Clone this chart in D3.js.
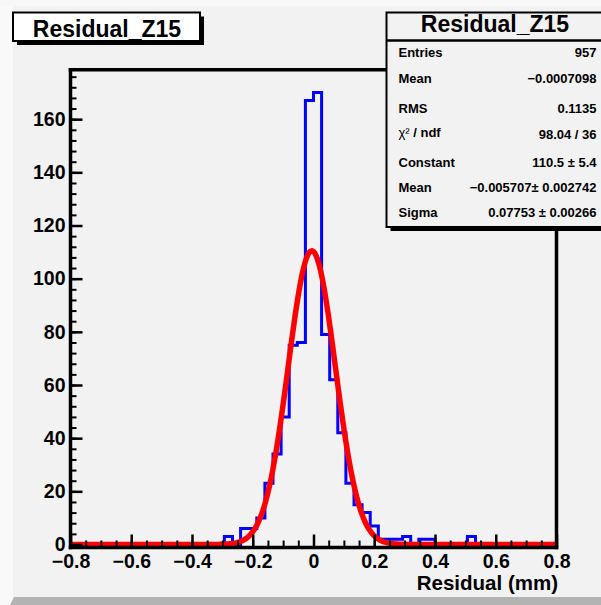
<!DOCTYPE html>
<html>
<head>
<meta charset="utf-8">
<script src="https://cdn.jsdelivr.net/npm/d3@7"></script>
<style>
  body { margin: 0; background: #f2f2f2; }
  text { font-family: "Liberation Sans", Arial, Helvetica, sans-serif; font-weight: bold; }
</style>
</head>
<body>
<div id="chart"></div>
<script>
// histogram range and bin contents (60 bins from -0.8 to 0.8)
var xMin = -0.8, xMax = 0.8;
var binCounts = [
  0, 0, 0, 0, 0, 0, 0, 0, 0, 0,
  0, 0, 0, 0, 0, 0, 0, 0, 0, 3,
  0, 6, 6, 10, 23, 34, 48, 75, 76, 167,
  170, 79, 62, 42, 23, 15, 12, 7, 2, 2,
  2, 3, 0, 2, 2, 0, 0, 0, 0, 3,
  0, 0, 0, 0, 0, 0, 0, 0, 0, 0
];

// gaussian fit parameters (from the stats box)
var fitConstant = 110.5, fitMean = -0.005707, fitSigma = 0.07753;

// axis ticks
var xTickLabels = [-0.8, -0.6, -0.4, -0.2, 0, 0.2, 0.4, 0.6, 0.8];
var yTickLabels = [0, 20, 40, 60, 80, 100, 120, 140, 160];

// stats box
var statNames = ["Entries", "Mean", "RMS", "\u03c7\u00b2 / ndf", "Constant", "Mean", "Sigma"];
var statValues = ["957", "\u22120.0007098", "0.1135", "98.04 / 36", "110.5 \u00b1 5.4",
                  "\u22120.005707\u00b1 0.002742", "0.07753 \u00b1 0.00266"];

var histTitle = "Residual_Z15";
var xTitle = "Residual (mm)";

var W = 601, H = 605;

var svg = d3.select("#chart")
  .append("svg")
    .attr("width", W)
    .attr("height", H);

// canvas background with the bevel border
svg.append("rect").attr("width", W).attr("height", H).attr("fill", "#f2f2f2");
svg.append("rect").attr("x", 0).attr("y", 0).attr("width", 13).attr("height", H).attr("fill", "#f9f9f9");
svg.append("rect").attr("x", 0).attr("y", 0).attr("width", W).attr("height", 6).attr("fill", "#f7f7f7");
svg.append("polygon")
  .attr("points", "10,605 14,597 601,597 601,605")
  .attr("fill", "#b3b3b3");

var x = d3.scaleLinear().domain([xMin, xMax]).range([70.5, 556.5]);
var y = d3.scaleLinear().domain([0, 178.5]).range([544.5, 70]);

var binWidth = (xMax - xMin) / binCounts.length;

// histogram outline
var histPts = binCounts.map(function(c, i) { return [xMin + i * binWidth, c]; });
histPts.push([xMax, binCounts[binCounts.length - 1]]);

var stepLine = d3.line()
  .x(function(d) { return x(d[0]); })
  .y(function(d) { return y(d[1]); })
  .curve(d3.curveStepAfter);

svg.append("path")
  .datum(histPts)
  .attr("d", stepLine)
  .attr("fill", "none")
  .attr("stroke", "#0000ff")
  .attr("stroke-width", 3);

// fit function
var fitPts = d3.range(0, 401).map(function(i) {
  var xv = xMin + i * (xMax - xMin) / 400;
  var z = (xv - fitMean) / fitSigma;
  return [xv, fitConstant * Math.exp(-0.5 * z * z)];
});

svg.append("path")
  .datum(fitPts)
  .attr("d", d3.line().x(function(d) { return x(d[0]); }).y(function(d) { return y(d[1]); }))
  .attr("fill", "none")
  .attr("stroke", "#ff0000")
  .attr("stroke-width", 5.5)
  .attr("stroke-linejoin", "round");

// y axis: major + minor ticks pointing into the frame
var yAxis = svg.append("g")
  .attr("transform", "translate(70.5,0)")
  .call(d3.axisLeft(y).tickValues(yTickLabels).tickSize(-12).tickPadding(5).tickFormat(d3.format("d")));
yAxis.select(".domain").remove();
yAxis.selectAll("line").attr("stroke-width", 2.5);
yAxis.selectAll("text").attr("font-size", "19.5px").attr("fill", "#000");

var yMinor = svg.append("g")
  .attr("transform", "translate(70.5,0)")
  .call(d3.axisLeft(y).tickValues(d3.range(0, 178, 4)).tickSize(-6).tickFormat(""));
yMinor.select(".domain").remove();
yMinor.selectAll("line").attr("stroke-width", 2);

// x axis
var xAxis = svg.append("g")
  .attr("transform", "translate(0,547.5)")
  .call(d3.axisBottom(x).tickValues(xTickLabels).tickSize(-13).tickPadding(7).tickFormat(d3.format("~g")));
xAxis.select(".domain").remove();
xAxis.selectAll("line").attr("stroke-width", 2.5);
xAxis.selectAll("text").attr("font-size", "19.5px").attr("fill", "#000");

var xMinor = svg.append("g")
  .attr("transform", "translate(0,547.5)")
  .call(d3.axisBottom(x).tickValues(d3.range(0, 33).map(function(i) { return xMin + i * 0.05; }))
    .tickSize(-7).tickFormat(""));
xMinor.select(".domain").remove();
xMinor.selectAll("line").attr("stroke-width", 2);

// frame
var frame = svg.append("g").attr("stroke", "#000").attr("stroke-width", 3.5).attr("stroke-linecap", "square");
frame.append("line").attr("x1", 70.5).attr("x2", 70.5).attr("y1", 69.7).attr("y2", 547.5);
frame.append("line").attr("x1", 70.5).attr("x2", 556.5).attr("y1", 547.5).attr("y2", 547.5);
frame.append("line").attr("x1", 70.5).attr("x2", 556.5).attr("y1", 69.7).attr("y2", 69.7);
frame.append("line").attr("x1", 556.5).attr("x2", 556.5).attr("y1", 69.7).attr("y2", 547.5);

// x axis title
svg.append("text")
  .attr("x", 558)
  .attr("y", 590)
  .attr("text-anchor", "end")
  .attr("font-size", "20.5px")
  .text(xTitle);

// title box (top left)
svg.append("rect").attr("x", 17).attr("y", 16.5).attr("width", 187).attr("height", 28.5).attr("fill", "#000");
svg.append("rect").attr("x", 13).attr("y", 12.5).attr("width", 187).attr("height", 28.5)
  .attr("fill", "#fff").attr("stroke", "#000").attr("stroke-width", 2);
svg.append("text")
  .attr("x", 107)
  .attr("y", 36.5)
  .attr("text-anchor", "middle")
  .attr("font-size", "23px")
  .text(histTitle);

// stats box (top right)
var sx = 386.5, sy = 12.5, sh = 214.5;
svg.append("rect").attr("x", sx + 4).attr("y", sy + 4).attr("width", 230).attr("height", sh).attr("fill", "#000");
svg.append("rect").attr("x", sx).attr("y", sy).attr("width", 230).attr("height", sh)
  .attr("fill", "#f2f2f2").attr("stroke", "#000").attr("stroke-width", 2);
svg.append("line").attr("x1", sx).attr("x2", W).attr("y1", 40.5).attr("y2", 40.5)
  .attr("stroke", "#000").attr("stroke-width", 2.5);
svg.append("text")
  .attr("x", 495)
  .attr("y", 32)
  .attr("text-anchor", "middle")
  .attr("font-size", "23px")
  .text(histTitle);

var rowY = [56.5, 83, 112.5, 137, 166.5, 192, 216.5];

svg.selectAll(".statname")
  .data(statNames)
  .enter()
  .append("text")
    .attr("class", "statname")
    .attr("x", 398.5)
    .attr("y", function(d, i) { return rowY[i]; })
    .attr("font-size", "13px")
    .each(function(d) {
      // the chi is drawn in a plain (symbol) face in the original
      if (d.charAt(0) == "\u03c7") {
        d3.select(this).append("tspan").attr("font-weight", "normal").text(d.slice(0, 2));
        d3.select(this).append("tspan").text(d.slice(2));
      } else {
        d3.select(this).text(d);
      }
    });

svg.selectAll(".statval")
  .data(statValues)
  .enter()
  .append("text")
    .attr("class", "statval")
    .attr("x", 596.5)
    .attr("y", function(d, i) { return rowY[i] + (i == 3 ? 2 : 0); })
    .attr("text-anchor", "end")
    .attr("font-size", "13px")
    .text(function(d) { return d; });
</script>
</body>
</html>
